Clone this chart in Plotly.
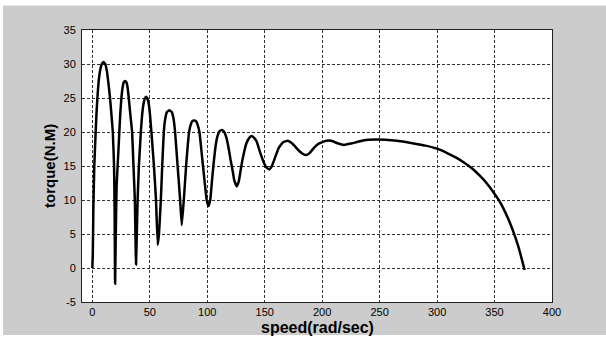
import plotly.graph_objects as go

speed = [0, 0.4, 0.9, 1.7, 2.9, 3.6, 4.4, 5.4, 6.6, 8.0, 9.6, 11.2, 12.6, 13.9, 15.4, 16.6, 17.8, 18.9, 19.4, 19.8,
         20.4, 21.1, 22.0, 23.5, 24.3, 25.2, 26.2, 27.3, 28.5, 29.7, 30.8, 31.8, 33.0, 34.6, 35.8, 37.0, 38.0,
         38.7, 39.4, 40.5, 42.2, 43.2, 44.4, 45.6, 46.8, 48.0, 49.2, 50.3, 51.4, 53.6, 55.4, 56.9,
         58.0, 59.6, 60.8, 62.2, 63.4, 64.8, 67.0, 69.2, 70.7, 72.0, 74.2, 76.4, 77.8,
         79.6, 81.6, 83.0, 84.2, 85.5, 87.0, 88.6, 90.2, 91.7, 93.2, 94.6, 96.3, 99.5, 101.0,
         102.6, 104.0, 105.3, 107.0, 108.6, 110.6, 112.7, 114.8, 116.6, 118.4, 120.2, 121.8, 123.5, 125.7,
         127.5, 129.0, 130.5, 132.3, 134.0, 136.4, 138.8, 141.0, 143.0, 146.0, 149.0, 151.5, 153.9,
         156.0, 158.5, 162.0, 166.0, 169.8, 174.0, 180.0, 183.0, 186.0,
         189.0, 193.0, 197.0, 203.5, 208.0, 214.0, 219.0, 225.0, 232.0, 240.0, 247.0, 255.0,
         265.0, 275.0, 282.0, 290.0, 300.0, 310.0, 317.0, 323.0, 330.0, 337.6, 343.0,
         349.2, 354.0, 357.9, 362.0, 366.0, 371.0, 376.2]
torque = [0.0, 2.0, 9.0, 15.0, 20.0, 22.7, 25.0, 27.3, 28.9, 29.9, 30.3, 30.0, 29.0, 27.3, 25.0, 22.6, 20.0, 15.0, 8.0, -2.3,
          5.0, 12.0, 15.0, 20.0, 22.7, 24.8, 26.4, 27.3, 27.5, 27.3, 26.4, 24.8, 22.7, 20.0, 15.0, 10.0, 0.5,
          5.0, 10.0, 15.0, 20.0, 22.3, 24.0, 24.9, 25.2, 24.9, 24.0, 22.3, 20.0, 15.0, 10.0, 3.4,
          5.0, 10.0, 15.0, 20.0, 21.9, 22.9, 23.2, 22.9, 21.9, 20.0, 15.0, 10.0, 6.3,
          10.0, 15.0, 18.0, 20.0, 21.0, 21.6, 21.7, 21.6, 21.0, 20.0, 17.8, 15.0, 10.0, 9.1,
          10.0, 12.6, 15.0, 17.6, 19.2, 20.1, 20.3, 20.0, 19.2, 17.8, 16.0, 14.6, 12.9, 12.0,
          12.8, 14.3, 15.8, 17.2, 18.3, 19.1, 19.4, 19.1, 18.6, 17.0, 15.6, 14.8, 14.5,
          14.9, 16.0, 17.6, 18.5, 18.7, 18.3, 17.2, 16.8, 16.6,
          16.9, 17.7, 18.3, 18.7, 18.7, 18.3, 18.1, 18.3, 18.6, 18.85, 18.9, 18.85,
          18.7, 18.45, 18.25, 18.0, 17.55, 16.8, 16.2, 15.55, 14.7, 13.5, 12.5,
          11.1, 9.9, 8.7, 7.2, 5.5, 3.0, -0.3]

x_ticks = [0, 50, 100, 150, 200, 250, 300, 350, 400]
y_ticks = [-5, 0, 5, 10, 15, 20, 25, 30, 35]

W, H = 606, 338
L, R, T, B = 82, 54, 30, 36
pw, ph = W - L - R, H - T - B

def px2paper_x(px):
    return (px - L) / pw

def px2paper_y(py):
    return (H - B - py) / ph

fig = go.Figure()
fig.add_trace(go.Scatter(x=speed, y=torque, mode="lines",
                         line=dict(color="black", width=2.5, shape="spline", smoothing=0.35),
                         showlegend=False, hoverinfo="skip"))

font = "Liberation Sans, Arial, sans-serif"
axis_common = dict(showline=True, linecolor="#222", linewidth=1, mirror=True,
                   showgrid=True, gridcolor="#333", gridwidth=1, griddash="3px,2px",
                   zeroline=False, ticks="", tickfont=dict(family=font, size=11, color="black"))

fig.update_xaxes(range=[-9, 400], tickvals=x_ticks, ticktext=[str(v) for v in x_ticks], **axis_common)
fig.update_yaxes(range=[-5, 35], tickvals=y_ticks, ticktext=[str(v) for v in y_ticks],
                 ticklabelstandoff=3, **axis_common)

shapes = [
    dict(type="rect", xref="paper", yref="paper", x0=px2paper_x(0), x1=px2paper_x(3),
         y0=px2paper_y(H), y1=px2paper_y(0), fillcolor="white", line=dict(width=0)),
    dict(type="rect", xref="paper", yref="paper", x0=px2paper_x(0), x1=px2paper_x(W),
         y0=px2paper_y(5.5), y1=px2paper_y(0), fillcolor="white", line=dict(width=0)),
    dict(type="rect", xref="paper", yref="paper", x0=px2paper_x(0), x1=px2paper_x(W),
         y0=px2paper_y(H), y1=px2paper_y(335), fillcolor="white", line=dict(width=0)),
]

annotations = [
    dict(text="<b>speed(rad/sec)</b>", xref="paper", yref="paper", x=0.5, y=px2paper_y(327),
         xanchor="center", yanchor="middle", showarrow=False,
         font=dict(family=font, size=16, color="black")),
    dict(text="<b>torque(N.M)</b>", xref="paper", yref="paper", x=px2paper_x(49), y=0.5,
         xanchor="center", yanchor="middle", textangle=-90, showarrow=False,
         font=dict(family=font, size=15, color="black")),
]

fig.update_layout(width=W, height=H, margin=dict(l=L, r=R, t=T, b=B, pad=0),
                  paper_bgcolor="#cccccc", plot_bgcolor="white",
                  shapes=shapes, annotations=annotations)

fig.write_html("out.html")
